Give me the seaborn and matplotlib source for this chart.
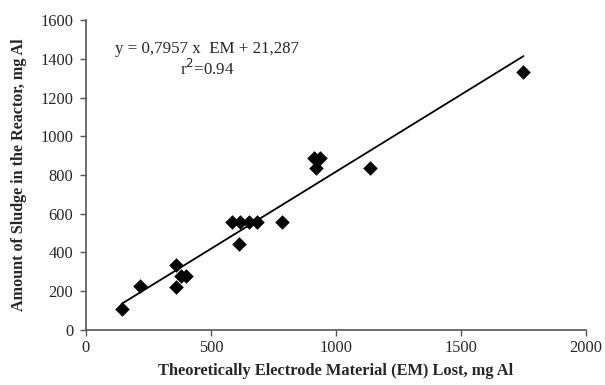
import matplotlib
matplotlib.use("Agg")
import matplotlib.pyplot as plt
import numpy as np
import pandas as pd
import seaborn as sns

# Electrode material lost (theoretical) vs. sludge measured, both in mg Al
em_lost = [143, 218, 360, 360, 382, 400, 583, 618, 614, 652, 684, 783, 912, 935, 920, 1136, 1750]
sludge = [110, 225, 335, 222, 278, 280, 555, 555, 445, 555, 555, 555, 890, 890, 835, 835, 1330]

# Linear fit reported for the data
slope = 0.7957
intercept = 21.287
r_squared = 0.94

x_ticks = [0, 500, 1000, 1500, 2000]
y_ticks = [0, 200, 400, 600, 800, 1000, 1200, 1400, 1600]

df = pd.DataFrame({"EM": em_lost, "Sludge": sludge})
fit_x = np.array([min(em_lost), max(em_lost)], dtype=float)
fit_df = pd.DataFrame({"EM": fit_x, "Sludge": slope * fit_x + intercept})

sns.set_style("white")
plt.rcParams["font.family"] = ["Liberation Serif", "DejaVu Serif"]

fig = plt.figure(figsize=(6.05, 3.85), dpi=100)
ax = fig.add_axes([0.1421, 0.143, 0.8265, 0.805])

sns.lineplot(data=fit_df, x="EM", y="Sludge", ax=ax, color="black", linewidth=1.3)
sns.scatterplot(data=df, x="EM", y="Sludge", ax=ax, marker="D", s=55,
                color="black", edgecolor="black", linewidth=0, zorder=3)

ax.set_xlim(0, 2000)
ax.set_ylim(0, 1600)
ax.set_xticks(x_ticks)
ax.set_yticks(y_ticks)
ax.tick_params(axis="both", direction="out", length=4, width=1, color="#555555",
               labelsize=11.8, bottom=True, left=True, pad=3)
ax.tick_params(axis="y", pad=5)

for side in ("top", "right"):
    ax.spines[side].set_visible(False)
for side in ("left", "bottom"):
    ax.spines[side].set_color("#555555")
    ax.spines[side].set_linewidth(1.2)

ax.set_xlabel("Theoretically Electrode Material (EM) Lost, mg Al",
              fontsize=11.8, fontweight="bold", labelpad=5)
ax.set_ylabel("Amount of Sludge in the Reactor, mg Al",
              fontsize=11.6, fontweight="bold", labelpad=10)

ax.text(485, 1452, f"y = {slope:.4f} x  EM + {intercept:.3f}".replace(".", ","),
        ha="center", va="center", fontsize=12.2)
ax.text(485, 1345, f"r$^2$={r_squared:.2f}", ha="center", va="center", fontsize=12.2)

fig.savefig("out.png", dpi=100)
